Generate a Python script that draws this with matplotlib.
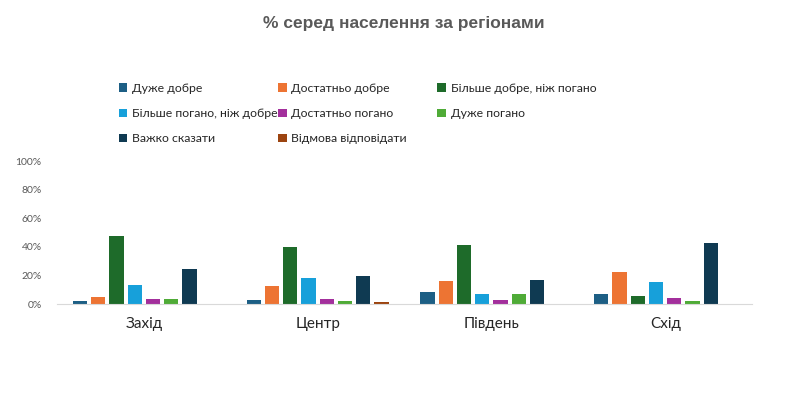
import numpy as np
import matplotlib.pyplot as plt

regions = ["Захід", "Центр", "Південь", "Схід"]
series = [
    "Дуже добре",
    "Достатньо добре",
    "Більше добре, ніж погано",
    "Більше погано, ніж добре",
    "Достатньо погано",
    "Дуже погано",
    "Важко сказати",
    "Відмова відповідати",
]

# values in %, per series, regions in order above
duzhe_dobre = [2.3, 3.0, 8.6, 7.0]
dostatno_dobre = [4.7, 12.6, 16.3, 22.6]
bilshe_dobre = [47.4, 40.0, 41.2, 5.8]
bilshe_pogano = [13.5, 18.4, 7.0, 15.3]
dostatno_pogano = [3.5, 3.5, 3.0, 4.2]
duzhe_pogano = [3.5, 2.3, 7.0, 2.3]
vazhko = [24.4, 19.3, 17.0, 42.8]
vidmova = [0.0, 1.4, 0.0, 0.0]

values = [duzhe_dobre, dostatno_dobre, bilshe_dobre, bilshe_pogano,
          dostatno_pogano, duzhe_pogano, vazhko, vidmova]
colors = ["#1d5f85", "#ed7433", "#1e6b2a", "#17a0da",
          "#a32f9c", "#4fab37", "#0f3a52", "#9c4410"]

fig = plt.figure(figsize=(8.01, 3.98), dpi=100)
ax = fig.add_axes([0.071, 0.236, 0.868, 0.359])

x = np.arange(len(regions))
slot = 0.105
width = 0.082
bars = []
for i, (vals, col) in enumerate(zip(values, colors)):
    offs = (i - (len(series) - 1) / 2) * slot
    b = ax.bar(x + offs, vals, width=width, color=col, label=series[i])
    bars.append(b)

ax.set_xlim(-0.5, len(regions) - 0.5)
ax.set_ylim(0, 100)
ax.set_yticks(range(0, 101, 20))
ax.set_yticklabels([f"{t}%" for t in range(0, 101, 20)], fontsize=7.5,
                   color="#595959", family="Lato")
ax.set_xticks(x)
ax.set_xticklabels(regions, fontsize=11, color="#262626", family="Lato")
ax.tick_params(axis="both", length=0)
ax.tick_params(axis="x", pad=9)
ax.tick_params(axis="y", pad=11)
for s in ["top", "right", "left"]:
    ax.spines[s].set_visible(False)
ax.spines["bottom"].set_color("#d9d9d9")

fig.text(0.504, 0.94, "% серед населення за регіонами", ha="center", va="center",
         fontsize=12.5, fontweight="bold", color="#595959", family="Liberation Sans")

# legend laid out row by row, one legend per column
col_x = [0.148, 0.347, 0.546]
for c in range(3):
    idx = list(range(c, len(series), 3))
    leg = fig.legend([bars[i] for i in idx], [series[i] for i in idx],
                     loc="upper left", bbox_to_anchor=(col_x[c], 0.792),
                     frameon=False, borderaxespad=0, borderpad=0,
                     prop={"family": "Lato", "size": 8.8},
                     handlelength=0.7, handleheight=0.7,
                     handletextpad=0.4, labelspacing=1.17)
    for t in leg.get_texts():
        t.set_color("#262626")

fig.savefig("out.png", dpi=100)
